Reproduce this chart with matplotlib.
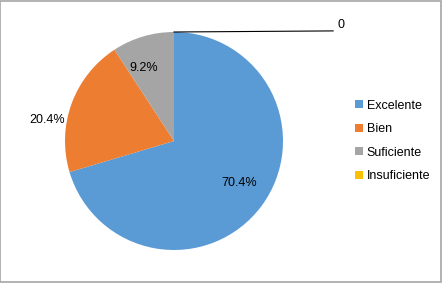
import matplotlib.pyplot as plt
from matplotlib.patches import Patch

labels = ['Excelente', 'Bien', 'Suficiente', 'Insuficiente']
values = [70.4, 20.4, 9.2, 0]
colors = ['#5B9BD5', '#ED7D31', '#A5A5A5', '#FFC000']
value_text = ['70.4%', '20.4%', '9.2%', '0']

plt.rcParams['font.family'] = ['Liberation Sans', 'DejaVu Sans']

fig = plt.figure(figsize=(4.42, 2.83), dpi=100)
fig.patches.append(plt.Rectangle((0.001, 0.002), 0.997, 0.996, transform=fig.transFigure,
                                 fill=False, edgecolor='#A6A6A6', linewidth=1.2))

ax = fig.add_axes([65 / 442, 33 / 283, 218 / 442, 218 / 283])
ax.pie(values, colors=colors, startangle=90, counterclock=False, radius=1)
ax.set_xlim(-1, 1)
ax.set_ylim(-1, 1)
ax.set_aspect('equal')
ax.axis('off')

# data labels
label_pos = [(0.60, -0.385), (-1.165, 0.19), (-0.28, 0.67), (1.53, 1.06)]
for txt, (x, y) in zip(value_text, label_pos):
    ax.text(x, y, txt, ha='center', va='center', fontsize=9, clip_on=False)

# leader line for the zero slice
ax.plot([0, 1.46], [1.0, 1.01], color='black', linewidth=0.8, clip_on=False)

handles = [Patch(facecolor=c, edgecolor='none') for c in colors]
fig.legend(handles, labels, loc='center left', bbox_to_anchor=(350 / 442, 1 - 141 / 283),
           frameon=False, fontsize=9, handlelength=0.6, handleheight=0.6,
           handletextpad=0.35, labelspacing=0.93, borderaxespad=0)

fig.savefig('out.png', dpi=100)
